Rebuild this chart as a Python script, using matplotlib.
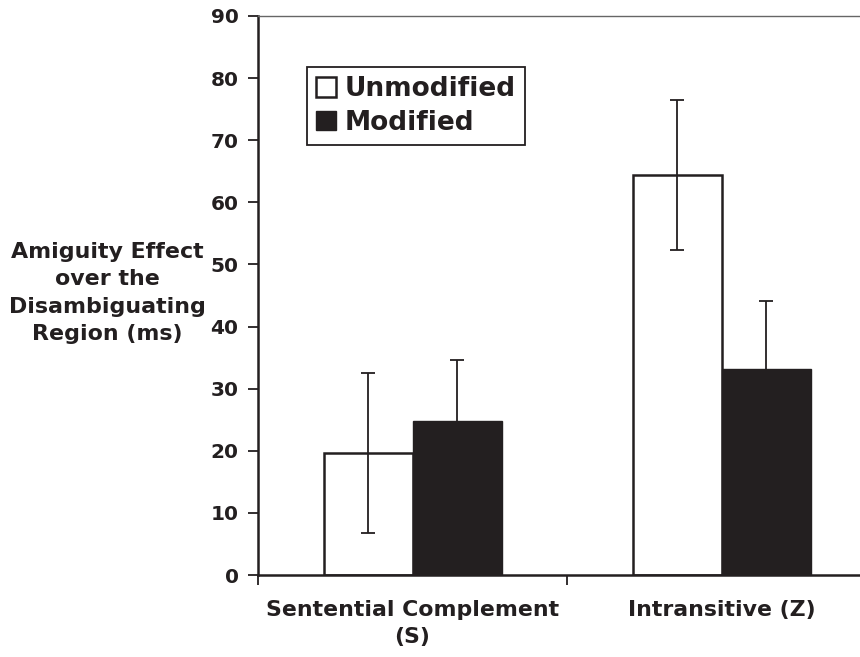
import numpy as np
import matplotlib.pyplot as plt

# data
categories = ['Sentential Complement\n(S)', 'Intransitive (Z)']
series = ['Unmodified', 'Modified']
unmodified = [19.6, 64.4]
unmodified_err = [12.9, 12.0]
modified = [24.8, 33.1]
modified_err = [9.8, 11.0]

plt.rcParams['font.family'] = ['DejaVu Sans']
plt.rcParams['font.weight'] = 'bold'

fig = plt.figure(figsize=(8.6, 6.57), dpi=100)
ax = fig.add_axes([0.3, 0.1248, 0.7, 0.8509])

x = np.arange(len(categories))
w = 0.288
ink = '#231f20'

ax.bar(x - w / 2, unmodified, w, color='white', edgecolor=ink, linewidth=1.8,
       label=series[0], zorder=2)
ax.bar(x + w / 2, modified, w, color=ink, edgecolor=ink, linewidth=1.0,
       label=series[1], zorder=2)
ax.errorbar(x - w / 2, unmodified, yerr=unmodified_err, fmt='none', ecolor=ink,
            elinewidth=1.3, capsize=5, capthick=1.3, zorder=3)
ax.errorbar(x + w / 2, modified, yerr=modified_err, fmt='none', ecolor=ink,
            elinewidth=1.3, capsize=5, capthick=1.3, zorder=3)

ax.set_xlim(-0.5, 1.448)
ax.set_ylim(0, 90)
ax.set_yticks(range(0, 91, 10))

# excel style: ticks on category boundaries, labels at centres
ax.set_xticks([-0.5, 0.5])
ax.set_xticklabels(['', ''])
ax.set_xticks(x, minor=True)
ax.set_xticklabels(categories, minor=True, fontsize=15.8, fontweight='bold',
                   color=ink, linespacing=1.45)
ax.tick_params(axis='x', which='major', direction='out', length=7, width=1.3, color=ink)
ax.tick_params(axis='x', which='minor', length=0, pad=18)
ax.tick_params(axis='y', direction='out', length=7, width=1.3, color=ink,
               labelsize=14.5, labelcolor=ink, pad=7)
for t in ax.get_yticklabels():
    t.set_fontweight('bold')

ax.spines['left'].set_linewidth(1.8)
ax.spines['left'].set_color(ink)
ax.spines['bottom'].set_linewidth(1.8)
ax.spines['bottom'].set_color(ink)
ax.spines['top'].set_linewidth(1.0)
ax.spines['top'].set_color('#666666')
ax.spines['right'].set_visible(False)

leg = ax.legend(loc='upper left', bbox_to_anchor=(0.081, 0.909), borderaxespad=0,
                frameon=True, fancybox=False, edgecolor=ink, framealpha=1,
                prop={'weight': 'bold', 'size': 19}, handlelength=0.75,
                handleheight=0.75, handletextpad=0.35, borderpad=0.35,
                labelspacing=0.3)
leg.get_frame().set_linewidth(1.3)
for t in leg.get_texts():
    t.set_color(ink)

fig.text(107 / 860, 1 - 293 / 657,
         'Amiguity Effect\nover the\nDisambiguating\nRegion (ms)',
         ha='center', va='center', multialignment='center', fontsize=15.9,
         fontweight='bold', linespacing=1.45, color=ink)

fig.savefig('out.png', dpi=100)
